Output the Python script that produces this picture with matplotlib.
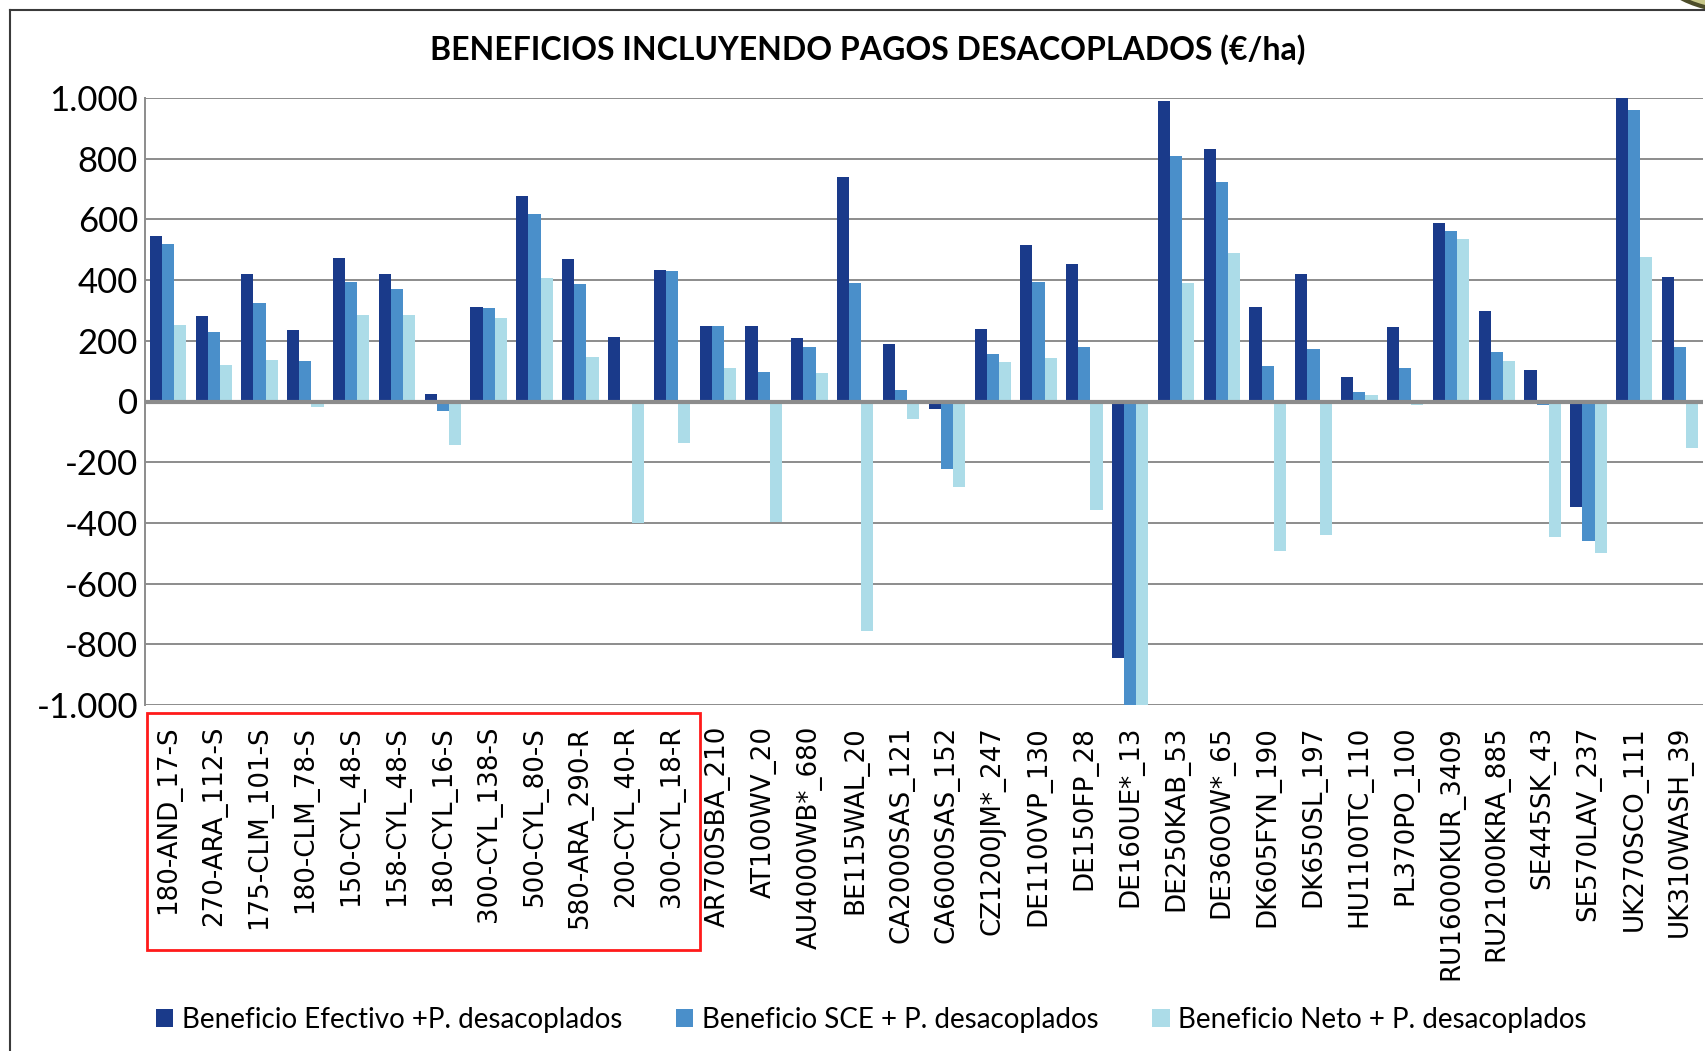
import matplotlib.pyplot as plt
import matplotlib.patches as mpatches
from matplotlib.lines import Line2D
from matplotlib.ticker import FuncFormatter
import numpy as np

categories = ['180-AND_17-S', '270-ARA_112-S', '175-CLM_101-S', '180-CLM_78-S',
              '150-CYL_48-S', '158-CYL_48-S', '180-CYL_16-S', '300-CYL_138-S',
              '500-CYL_80-S', '580-ARA_290-R', '200-CYL_40-R', '300-CYL_18-R',
              'AR700SBA_210', 'AT100WV_20', 'AU4000WB*_680', 'BE115WAL_20',
              'CA2000SAS_121', 'CA6000SAS_152', 'CZ1200JM*_247', 'DE1100VP_130',
              'DE150FP_28', 'DE160UE*_13', 'DE250KAB_53', 'DE360OW*_65',
              'DK605FYN_190', 'DK650SL_197', 'HU1100TC_110', 'PL370PO_100',
              'RU16000KUR_3409', 'RU21000KRA_885', 'SE445SK_43', 'SE570LAV_237',
              'UK270SCO_111', 'UK310WASH_39']

efectivo = [546, 281, 421, 237, 474, 421, 25, 313, 677, 469, 214, 434,
            248, 249, 210, 740, 189, -25, 240, 516, 454, -846, 989, 833,
            313, 419, 80, 246, 589, 298, 105, -346, 1003, 410]
sce = [518, 229, 323, 133, 393, 372, -30, 308, 617, 387, -6, 431,
       248, 97, 181, 391, 39, -221, 156, 395, 178, -1010, 808, 722,
       116, 174, 30, 110, 561, 164, -11, -458, 960, 180]
neto = [253, 120, 138, -17, 285, 286, -143, 274, 407, 146, -400, -137,
        109, -396, 93, -755, -58, -283, 129, 144, -359, -1010, 389, 490,
        -491, -439, 23, -10, 536, 135, -447, -500, 475, -152]

series_names = ['Beneficio Efectivo +P. desacoplados',
                'Beneficio SCE + P. desacoplados',
                'Beneficio Neto + P. desacoplados']
colors = ['#1a3a8a', '#4a8fca', '#acdce8']

W, H = 1706, 1051
fig = plt.figure(figsize=(W / 100, H / 100), dpi=100)
ax = fig.add_axes([145 / W, 1 - 705 / H, (1703 - 145) / W, (705 - 98) / H])

x = np.arange(len(categories))
w = 0.265
bars = []
for i, (vals, c) in enumerate(zip([efectivo, sce, neto], colors)):
    b = ax.bar(x + (i - 1) * w, vals, w, color=c, linewidth=0, zorder=3)
    bars.append(b)

ax.set_xlim(-0.5, len(categories) - 0.5)
ax.set_ylim(-1000, 1000)
ax.set_yticks(np.arange(-1000, 1001, 200))
ax.yaxis.set_major_formatter(FuncFormatter(lambda v, p: '{:,.0f}'.format(v).replace(',', '.')))
ax.grid(axis='y', color='#8c8c8c', linewidth=1.4, zorder=0)
ax.axhline(0, color='#8c8c8c', linewidth=3, zorder=4)
for s in ['top', 'right', 'bottom']:
    ax.spines[s].set_visible(False)
ax.spines['left'].set_color('#8c8c8c')
ax.spines['left'].set_linewidth(1.4)

ax.set_xticks(x)
ax.set_xticklabels(categories, rotation=90, fontsize=18.8, family='DejaVu Sans')
ax.tick_params(axis='x', length=0, pad=15)
ax.tick_params(axis='y', length=0, pad=5, labelsize=25)
for t in ax.get_yticklabels():
    t.set_family('Lato')

fig.text(868 / W, 1 - 50 / H, 'BENEFICIOS INCLUYENDO PAGOS DESACOPLADOS (€/ha)',
         ha='center', va='center', fontsize=23, fontweight='bold', family='Lato')

# red box around the Spanish farms
fig.patches.append(mpatches.Rectangle((147 / W, 1 - 950 / H), (700 - 147) / W, (950 - 713) / H,
                                      transform=fig.transFigure, fill=False,
                                      edgecolor='#ff1a1a', linewidth=2))

# outer frame of the chart
fig.lines.append(Line2D([10 / W, 10 / W], [0, 1 - 10 / H], transform=fig.transFigure,
                        color='#3a3a3a', linewidth=1.5))
fig.lines.append(Line2D([10 / W, 1], [1 - 10 / H, 1 - 10 / H], transform=fig.transFigure,
                        color='#3a3a3a', linewidth=1.5))

# corner ornament
fig.patches.append(mpatches.Ellipse((1745 / W, 1 + 32 / H), 175 / W, 88 / H,
                                    transform=fig.transFigure, facecolor='#c8c88a',
                                    edgecolor='#4d4d2a', linewidth=3))

leg = fig.legend(bars, series_names, loc='center left', bbox_to_anchor=(156 / W, 1 - 1020 / H),
                 ncol=3, frameon=False, handlelength=0.62, handleheight=0.62,
                 handletextpad=0.3, columnspacing=1.95, borderaxespad=0, borderpad=0,
                 prop={'family': 'Lato', 'size': 20})

fig.savefig('out.png', dpi=100)
